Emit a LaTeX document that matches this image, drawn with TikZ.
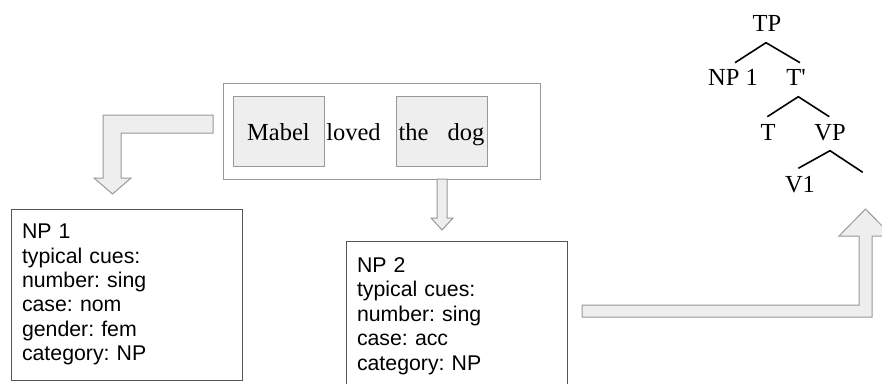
\documentclass[tikz,border=0pt]{standalone}
\usepackage{fontspec}
\setmainfont{Liberation Serif}
\newfontfamily\arialf{Liberation Sans}
\definecolor{boxfill}{HTML}{EEEEEE}
\definecolor{edgegray}{HTML}{999999}
\definecolor{darkgray}{HTML}{555555}
\frenchspacing
\begin{document}
\frenchspacing
\begin{tikzpicture}[x=1pt,y=-1pt,
  serif/.style={font=\fontsize{24.5}{28}\selectfont, inner sep=0pt},
  graybox/.style={draw=edgegray, fill=boxfill, line width=1pt, text height=23pt, text depth=5pt},
  cuebox/.style={draw=darkgray, line width=1pt, fill=white, align=left,
    font=\arialf\fontsize{21.3}{24.4}\selectfont\frenchspacing, inner xsep=11pt, inner ysep=0pt},
  bigarrow/.style={draw=edgegray, fill=boxfill, line width=1pt, line join=miter},
  branch/.style={line width=1.6pt, draw=black}]
\useasboundingbox (0,0) rectangle (882,383);
\clip (0,0) rectangle (882,383);
\fill[white] (0,0) rectangle (882,383);

% sentence box
\node[draw=edgegray, line width=1pt, fill=white, minimum width=317pt, minimum height=96pt, inner sep=0pt] (sent) at (381.5,131) {};
\node[graybox, serif, minimum width=91pt, minimum height=70pt] (mabel) at (278.5,131) {Mabel};
\node[serif, anchor=base] (loved) at (353.5,140) {loved};
\node[graybox, serif, minimum width=91pt, minimum height=70pt] (thedog) at (441.5,131) {the\hspace{19pt}dog};

% block arrows
\draw[bigarrow] (213,115) -- (103,115) -- (103,178) -- (94,178) -- (112.5,194) -- (131,178) -- (121,178) -- (121,133) -- (213,133) -- cycle;
\draw[bigarrow] (437,179) -- (437,218) -- (431,218) -- (442,230) -- (453,218) -- (447,218) -- (447,179) -- cycle;
\draw[bigarrow] (582,305) -- (859,305) -- (859,236) -- (839,236) -- (865.5,209) -- (892,236) -- (872,236) -- (872,317) -- (582,317) -- cycle;

% cue boxes
\node[cuebox, minimum width=231pt, minimum height=171pt, text width=209pt] (np1) at (126.5,294.5)
  {NP 1\\typical cues:\\number: sing\\case: nom\\gender: fem\\category: NP};
\node[cuebox, minimum width=221pt, minimum height=150pt, text width=199pt] (np2) at (456.5,316)
  {NP 2\\typical cues:\\number: sing\\case: acc\\category: NP};

% tree
\node[serif, anchor=base] (TP) at (767,31.7) {TP};
\node[serif, anchor=base] (NPa) at (733,85) {NP 1};
\node[serif, anchor=base] (Tbar) at (796,85) {T\textquotesingle};
\node[serif, anchor=base] (T) at (768,140) {T};
\node[serif, anchor=base] (VP) at (830,140) {VP};
\node[serif, anchor=base] (V1) at (800,192) {V1};

\coordinate (tpj) at (766,42.7);
\coordinate (npj) at (735,62.7);
\coordinate (tbj) at (800,62.7);
\coordinate (tbarj) at (798.3,96.7);
\coordinate (tj) at (767.3,116.7);
\coordinate (vpj) at (829.3,116.7);
\coordinate (vpjj) at (830,150.7);
\coordinate (v1j) at (798.3,168.3);
\coordinate (emptyj) at (862.7,172.3);

\draw[branch] (npj) -- (tpj) -- (tbj);
\draw[branch] (tj) -- (tbarj) -- (vpj);
\draw[branch] (v1j) -- (vpjj) -- (emptyj);
\end{tikzpicture}
\end{document}
